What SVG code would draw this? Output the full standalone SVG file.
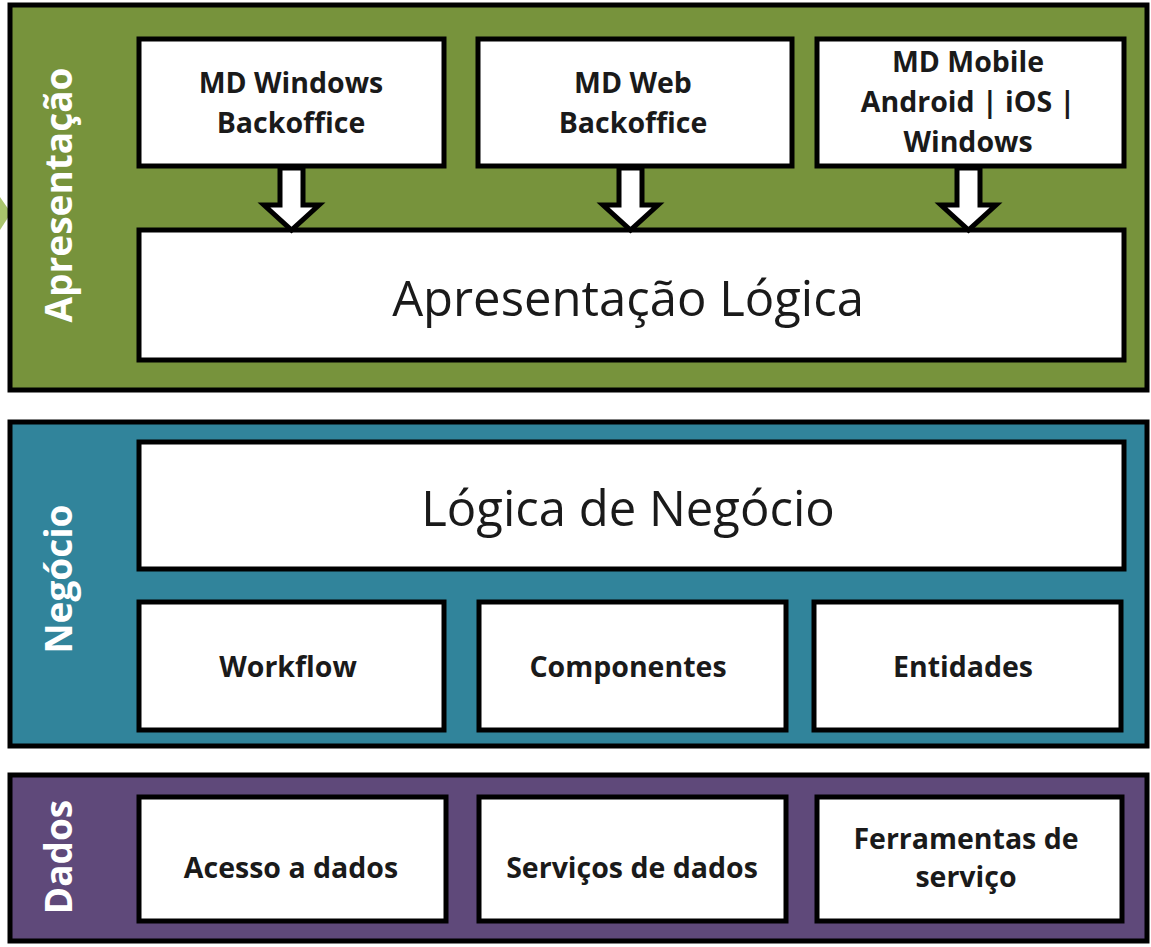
<svg xmlns="http://www.w3.org/2000/svg" width="1151" height="947" viewBox="0 0 1151 947">
<style>
.panel{stroke:#000;stroke-width:5}
.box{fill:#fff;stroke:#000;stroke-width:5}
.side{font-family:"Open Sans",Lato,sans-serif;font-weight:bold;font-size:37px;fill:#fff;text-anchor:middle}
.t{font-family:"Open Sans",Lato,sans-serif;font-weight:bold;font-size:28.5px;fill:#1a1a1a;text-anchor:middle}
.big{font-family:"Open Sans",Lato,sans-serif;font-size:49px;fill:#1a1a1a;text-anchor:middle}
.arr{fill:#fff;stroke:#000;stroke-width:5;stroke-linejoin:miter}
</style>
<rect width="1151" height="947" fill="#fff"/>
<polygon points="0,197 11,213 0,230" fill="#A9C46C"/>
<g id="apresentacao">
<rect class="panel" x="10" y="5" width="1137" height="385" fill="#77933C"/>
<text class="side" transform="translate(72,195) rotate(-90)">Apresentação</text>
</g>
<g id="md-windows"><rect class="box" x="139" y="39" width="305" height="127"/><text class="t" x="291" y="93">MD Windows</text><text class="t" x="291" y="133">Backoffice</text></g>
<g id="md-web"><rect class="box" x="478" y="39" width="314" height="127"/><text class="t" x="633" y="93">MD Web</text><text class="t" x="633" y="133">Backoffice</text></g>
<g id="md-mobile"><rect class="box" x="817" y="39" width="307" height="127"/><text class="t" x="968" y="72">MD Mobile</text><text class="t" x="968" y="112">Android | iOS |</text><text class="t" x="968" y="152">Windows</text></g>
<g id="apresentacao-logica"><rect class="box" x="139" y="230" width="985" height="130"/><text class="big" x="628" y="316">Apresentação Lógica</text></g>
<g id="negocio">
<rect class="panel" x="10" y="422" width="1137" height="324" fill="#31849B"/>
<text class="side" transform="translate(72,579) rotate(-90)">Negócio</text>
</g>
<g id="logica-negocio"><rect class="box" x="139" y="442" width="985" height="127"/><text class="big" x="628" y="526">Lógica de Negócio</text></g>
<g id="workflow"><rect class="box" x="139" y="602" width="305" height="128"/><text class="t" x="288" y="677">Workflow</text></g>
<g id="componentes"><rect class="box" x="479" y="602" width="307" height="128"/><text class="t" x="628" y="677">Componentes</text></g>
<g id="entidades"><rect class="box" x="814" y="602" width="307" height="128"/><text class="t" x="963" y="677">Entidades</text></g>
<g id="dados">
<rect class="panel" x="10" y="775" width="1137" height="166" fill="#5F497A"/>
<text class="side" transform="translate(72,857) rotate(-90)">Dados</text>
</g>
<g id="acesso"><rect class="box" x="139" y="797" width="307" height="124"/><text class="t" x="291" y="878">Acesso a dados</text></g>
<g id="servicos"><rect class="box" x="479" y="797" width="307" height="124"/><text class="t" x="632" y="878">Serviços de dados</text></g>
<g id="ferramentas"><rect class="box" x="817" y="797" width="305" height="124"/><text class="t" x="966" y="849">Ferramentas de</text><text class="t" x="966" y="887">serviço</text></g>
<g id="connectors">
<polygon class="arr" points="280,168 303,168 303,205 319,205 291.5,230 264,205 280,205"/>
<polygon class="arr" points="619,168 642,168 642,205 658,205 630.5,230 603,205 619,205"/>
<polygon class="arr" points="957,168 980,168 980,205 996,205 968.5,230 941,205 957,205"/>
</g>
</svg>
